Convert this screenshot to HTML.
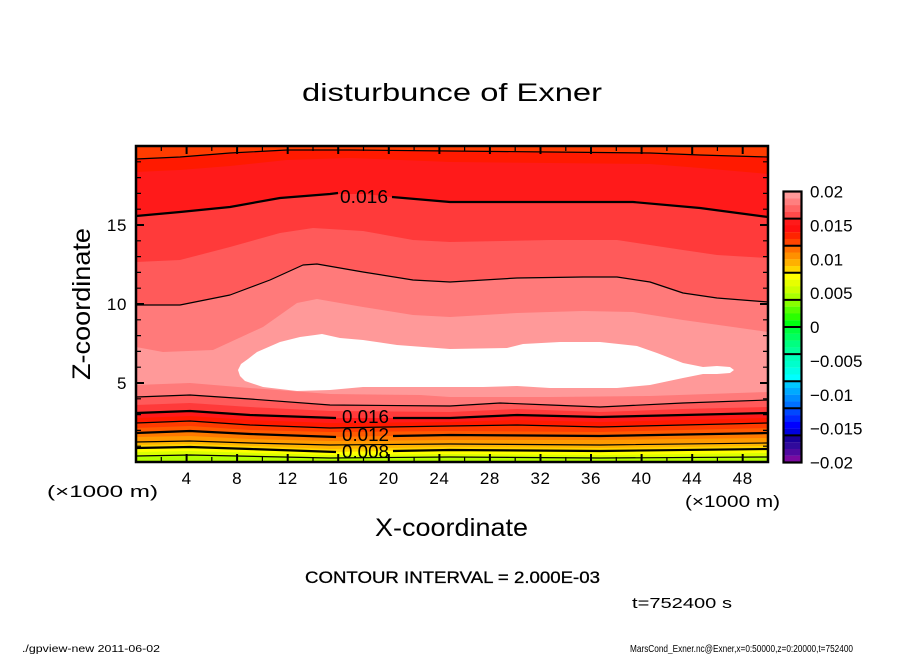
<!DOCTYPE html>
<html><head><meta charset="utf-8"><style>
html,body{margin:0;padding:0;background:#fff;}
svg{display:block;}
text{font-family:"Liberation Sans",sans-serif;fill:#000;}
</style></head><body>
<svg width="904" height="654" viewBox="0 0 904 654" xmlns="http://www.w3.org/2000/svg">
<rect width="904" height="654" fill="#fff"/>
<defs><clipPath id="pc"><rect x="136" y="146" width="632" height="316"/></clipPath></defs>
<g clip-path="url(#pc)">
<rect x="136" y="146" width="632" height="316" fill="#ff3c00"/>
<path fill="#ff1a00" d="M136 159L180 157L230 153L287 150L350 150L450 151L550 152L650 153L700 155L768 157L768 462L136 462Z"/>
<path fill="#ff1a1a" d="M136 172L180 170L230 166L287 160L350 158L450 162L550 163L650 164L700 168L768 174L768 462L136 462Z"/>
<path fill="#ff3a3a" d="M136 216L180 212L230 207L280 198L330 194L365 194L392 197L450 202L510 202L633 202L700 208L768 217L768 462L136 462Z"/>
<path fill="#ff5a5a" d="M136 262L180 260L230 247L280 233L313 228L363 231L413 240L450 242L550 240L617 240L683 250L717 255L768 258L768 462L136 462Z"/>
<path fill="#ff7a7a" d="M136 305L180 305L230 295L270 280L303 265L317 264L363 272L413 280L450 282L517 278L583 277L617 277L650 282L683 293L717 298L768 302L768 462L136 462Z"/>
<path fill="#ff9999" d="M136 347L163 352L213 350L263 327L297 303L317 299L363 307L413 315L450 317L517 313L583 311L633 312L683 320L733 327L768 332L768 462L136 462Z"/>
<path fill="#fff" d="M238 370L241 364L248 359L257 352L280 342L300 337L315 335L322 334L340 338L363 340L397 345L450 349L507 348L523 344L560 342L600 342L637 346L657 353L683 363L703 367L717 366L730 367L734 370L730 373L717 374L703 374L683 378L650 385L617 388L583 388L550 388L517 386L483 387L450 387L413 387L363 387L330 390L297 391L263 387L245 381L240 376Z"/>
<path fill="#ff7a7a" d="M136 385L190 383L250 388L330 394L420 395L450 397L550 397L650 396L768 392L768 462L136 462Z"/>
<path fill="#ff5a5a" d="M136 397L190 395L250 399L330 405L450 406L500 403L550 405L600 407L683 403L768 400L768 462L136 462Z"/>
<path fill="#ff3a3a" d="M136 405L190 403L250 407L330 411L450 412L517 409L600 412L683 409L768 407L768 462L136 462Z"/>
<path fill="#ff1a1a" d="M136 413L190 411L250 415L330 418L450 418L517 415L600 417L683 415L768 413L768 462L136 462Z"/>
<path fill="#ff1a00" d="M136 418L190 416L250 420L330 423L450 422L517 420L600 422L683 420L768 418L768 462L136 462Z"/>
<path fill="#ff3c00" d="M136 423L190 421L250 425L330 428L450 426L517 425L600 427L683 425L768 423L768 462L136 462Z"/>
<path fill="#ff5a00" d="M136 428L190 426L250 430L330 432L450 431L600 432L768 428L768 462L136 462Z"/>
<path fill="#ff7a00" d="M136 433L190 431L250 434L330 437L450 435L600 436L768 433L768 462L136 462Z"/>
<path fill="#ff9a00" d="M136 437L190 436L250 439L330 441L450 440L600 440L768 438L768 462L136 462Z"/>
<path fill="#ffb400" d="M136 442L190 441L250 443L330 445L450 444L600 445L768 443L768 462L136 462Z"/>
<path fill="#ffd400" d="M136 445L190 444L250 446L330 449L450 447L600 448L768 446L768 462L136 462Z"/>
<path fill="#ffff00" d="M136 448L190 447L250 449L330 452L450 450L600 451L768 449L768 462L136 462Z"/>
<path fill="#dcff00" d="M136 452L190 451L330 455L450 454L600 455L768 453L768 462L136 462Z"/>
<path fill="#b4ff00" d="M136 456L190 455L330 458L450 457L600 458L768 457L768 462L136 462Z"/>
<g fill="none" stroke="#000" stroke-linejoin="round">
<path stroke-width="1.2" d="M136 159L180 157L230 153L287 150L350 150L450 151L550 152L650 153L700 155L768 157"/>
<path stroke-width="2.2" d="M136 216L180 212L230 207L280 198L330 194L338 193M392 197L450 202L510 202L633 202L700 208L768 217"/>
<path stroke-width="1.2" d="M136 305L180 305L230 295L270 280L303 265L317 264L363 272L413 280L450 282L517 278L583 277L617 277L650 282L683 293L717 298L768 302"/>
<path stroke-width="1.2" d="M136 397L190 395L250 399L330 405L450 406L500 403L550 405L600 407L683 403L768 400"/>
<path stroke-width="2.2" d="M136 413L190 411L250 415L336 418M393 418L450 418L517 415L600 417L683 415L768 413"/>
<path stroke-width="1.2" d="M136 423L190 421L250 425L330 428L450 426L517 425L600 427L683 425L768 423"/>
<path stroke-width="2.2" d="M136 433L190 431L250 434L336 437M393 436L450 435L600 436L768 433"/>
<path stroke-width="1.2" d="M136 442L190 441L250 443L330 445L450 444L600 445L768 443"/>
<path stroke-width="2.2" d="M136 448L190 447L250 449L336 452M393 451L450 450L600 451L768 449"/>
<path stroke-width="1.2" d="M136 456L190 455L330 458L450 457L600 458L768 457"/>
</g>
</g>
<text x="340" y="203" font-size="18" textLength="48" lengthAdjust="spacingAndGlyphs">0.016</text>
<text x="342" y="423" font-size="18" textLength="47" lengthAdjust="spacingAndGlyphs">0.016</text>
<text x="342" y="441" font-size="18" textLength="47" lengthAdjust="spacingAndGlyphs">0.012</text>
<text x="342" y="458" font-size="18" textLength="47" lengthAdjust="spacingAndGlyphs">0.008</text>
<rect x="136" y="146" width="632" height="316" fill="none" stroke="#000" stroke-width="2.5"/>
<path fill="none" stroke="#000" stroke-width="2" d="M186.6 462v-8M237.1 462v-8M287.7 462v-8M338.2 462v-8M388.8 462v-8M439.4 462v-8M489.9 462v-8M540.5 462v-8M591 462v-8M641.6 462v-8M692.2 462v-8M742.7 462v-8
M186.6 146v8M237.1 146v8M287.7 146v8M338.2 146v8M388.8 146v8M439.4 146v8M489.9 146v8M540.5 146v8M591 146v8M641.6 146v8M692.2 146v8M742.7 146v8
M136 383h8M136 304h8M136 225h8M768 383h-8M768 304h-8M768 225h-8"/>
<path fill="none" stroke="#000" stroke-width="1.2" d="M161.3 462v-5M211.8 462v-5M262.4 462v-5M313 462v-5M363.5 462v-5M414.1 462v-5M464.6 462v-5M515.2 462v-5M565.8 462v-5M616.3 462v-5M666.9 462v-5M717.4 462v-5
M161.3 146v5M211.8 146v5M262.4 146v5M313 146v5M363.5 146v5M414.1 146v5M464.6 146v5M515.2 146v5M565.8 146v5M616.3 146v5M666.9 146v5M717.4 146v5
M136 446.2h5M136 430.4h5M136 414.6h5M136 398.8h5M136 367.2h5M136 351.4h5M136 335.6h5M136 319.8h5M136 288.2h5M136 272.4h5M136 256.6h5M136 240.8h5M136 209.2h5M136 193.4h5M136 177.6h5M136 161.8h5
M768 446.2h-5M768 430.4h-5M768 414.6h-5M768 398.8h-5M768 367.2h-5M768 351.4h-5M768 335.6h-5M768 319.8h-5M768 288.2h-5M768 272.4h-5M768 256.6h-5M768 240.8h-5M768 209.2h-5M768 193.4h-5M768 177.6h-5M768 161.8h-5"/>
<g font-size="17" text-anchor="middle" letter-spacing="0.6">
<text x="186.6" y="484">4</text>
<text x="237.1" y="484">8</text>
<text x="287.7" y="484">12</text>
<text x="338.2" y="484">16</text>
<text x="388.8" y="484">20</text>
<text x="439.4" y="484">24</text>
<text x="489.9" y="484">28</text>
<text x="540.5" y="484">32</text>
<text x="591" y="484">36</text>
<text x="641.6" y="484">40</text>
<text x="692.2" y="484">44</text>
<text x="742.7" y="484">48</text>
</g>
<g font-size="17" text-anchor="end" letter-spacing="0.6">
<text x="127" y="231">15</text>
<text x="127" y="310">10</text>
<text x="127" y="389">5</text>
</g>
<text x="47" y="497" font-size="17" textLength="111" lengthAdjust="spacingAndGlyphs">(×1000 m)</text>
<text x="685" y="507" font-size="17" textLength="95" lengthAdjust="spacingAndGlyphs">(×1000 m)</text>
<text x="302" y="101" font-size="25" textLength="300" lengthAdjust="spacingAndGlyphs">disturbunce of Exner</text>
<text x="375" y="536" font-size="25" textLength="153" lengthAdjust="spacingAndGlyphs">X-coordinate</text>
<text transform="translate(90,380) rotate(-90)" x="0" y="0" font-size="25" textLength="152" lengthAdjust="spacingAndGlyphs">Z-coordinate</text>
<text x="305" y="583" font-size="17" textLength="295" lengthAdjust="spacingAndGlyphs" style="stroke:#000;stroke-width:0.3">CONTOUR INTERVAL = 2.000E-03</text>
<text x="632" y="608" font-size="15" textLength="100" lengthAdjust="spacingAndGlyphs">t=752400 s</text>
<text x="22" y="652" font-size="10" textLength="138" lengthAdjust="spacingAndGlyphs">./gpview-new  2011-06-02</text>
<text x="630" y="652" font-size="10" textLength="223" lengthAdjust="spacingAndGlyphs">MarsCond_Exner.nc@Exner,x=0:50000,z=0:20000,t=752400</text>
<g>
<rect x="783.5" y="191.5" width="18" height="6.9" fill="#ff9999"/>
<rect x="783.5" y="198.28" width="18" height="6.9" fill="#ff7f7f"/>
<rect x="783.5" y="205.05" width="18" height="6.9" fill="#ff6464"/>
<rect x="783.5" y="211.83" width="18" height="6.9" fill="#ff4a4a"/>
<rect x="783.5" y="218.6" width="18" height="6.9" fill="#ff1a1a"/>
<rect x="783.5" y="225.38" width="18" height="6.9" fill="#ff1010"/>
<rect x="783.5" y="232.15" width="18" height="6.9" fill="#ff2400"/>
<rect x="783.5" y="238.93" width="18" height="6.9" fill="#ff4400"/>
<rect x="783.5" y="245.7" width="18" height="6.9" fill="#ff7000"/>
<rect x="783.5" y="252.48" width="18" height="6.9" fill="#ff9000"/>
<rect x="783.5" y="259.25" width="18" height="6.9" fill="#ffb000"/>
<rect x="783.5" y="266.03" width="18" height="6.9" fill="#ffd400"/>
<rect x="783.5" y="272.8" width="18" height="6.9" fill="#ffff00"/>
<rect x="783.5" y="279.58" width="18" height="6.9" fill="#e6ff00"/>
<rect x="783.5" y="286.35" width="18" height="6.9" fill="#ccff00"/>
<rect x="783.5" y="293.13" width="18" height="6.9" fill="#aaff00"/>
<rect x="783.5" y="299.9" width="18" height="6.9" fill="#88ff00"/>
<rect x="783.5" y="306.68" width="18" height="6.9" fill="#55ff00"/>
<rect x="783.5" y="313.45" width="18" height="6.9" fill="#2aff00"/>
<rect x="783.5" y="320.23" width="18" height="6.9" fill="#00ff10"/>
<rect x="783.5" y="327" width="18" height="6.9" fill="#00ff40"/>
<rect x="783.5" y="333.78" width="18" height="6.9" fill="#00ff60"/>
<rect x="783.5" y="340.55" width="18" height="6.9" fill="#00ff80"/>
<rect x="783.5" y="347.33" width="18" height="6.9" fill="#00ff99"/>
<rect x="783.5" y="354.1" width="18" height="6.9" fill="#00ffbb"/>
<rect x="783.5" y="360.88" width="18" height="6.9" fill="#00ffcc"/>
<rect x="783.5" y="367.65" width="18" height="6.9" fill="#00ffe6"/>
<rect x="783.5" y="374.43" width="18" height="6.9" fill="#00ffff"/>
<rect x="783.5" y="381.2" width="18" height="6.9" fill="#00c8ff"/>
<rect x="783.5" y="387.98" width="18" height="6.9" fill="#00aaff"/>
<rect x="783.5" y="394.75" width="18" height="6.9" fill="#008cff"/>
<rect x="783.5" y="401.53" width="18" height="6.9" fill="#0070ff"/>
<rect x="783.5" y="408.3" width="18" height="6.9" fill="#0048ff"/>
<rect x="783.5" y="415.08" width="18" height="6.9" fill="#0028ff"/>
<rect x="783.5" y="421.85" width="18" height="6.9" fill="#0000ff"/>
<rect x="783.5" y="428.63" width="18" height="6.9" fill="#0000dd"/>
<rect x="783.5" y="435.4" width="18" height="6.9" fill="#1a0099"/>
<rect x="783.5" y="442.18" width="18" height="6.9" fill="#300a9c"/>
<rect x="783.5" y="448.95" width="18" height="6.9" fill="#500aa0"/>
<rect x="783.5" y="455.73" width="18" height="6.8" fill="#7a0aa0"/>
<path fill="none" stroke="#000" stroke-width="2" d="M783.5 218.6h18M783.5 245.7h18M783.5 272.8h18M783.5 299.9h18M783.5 327h18M783.5 354.1h18M783.5 381.2h18M783.5 408.3h18M783.5 435.4h18"/>
<rect x="783.5" y="191.5" width="18" height="271" fill="none" stroke="#000" stroke-width="2.2"/>
</g>
<g font-size="17">
<text x="810" y="197.5">0.02</text>
<text x="810" y="231.4">0.015</text>
<text x="810" y="265.3">0.01</text>
<text x="810" y="299.1">0.005</text>
<text x="810" y="333">0</text>
<text x="810" y="366.9">−0.005</text>
<text x="810" y="400.8">−0.01</text>
<text x="810" y="434.6">−0.015</text>
<text x="810" y="468.5">−0.02</text>
</g>
</svg>
</body></html>
